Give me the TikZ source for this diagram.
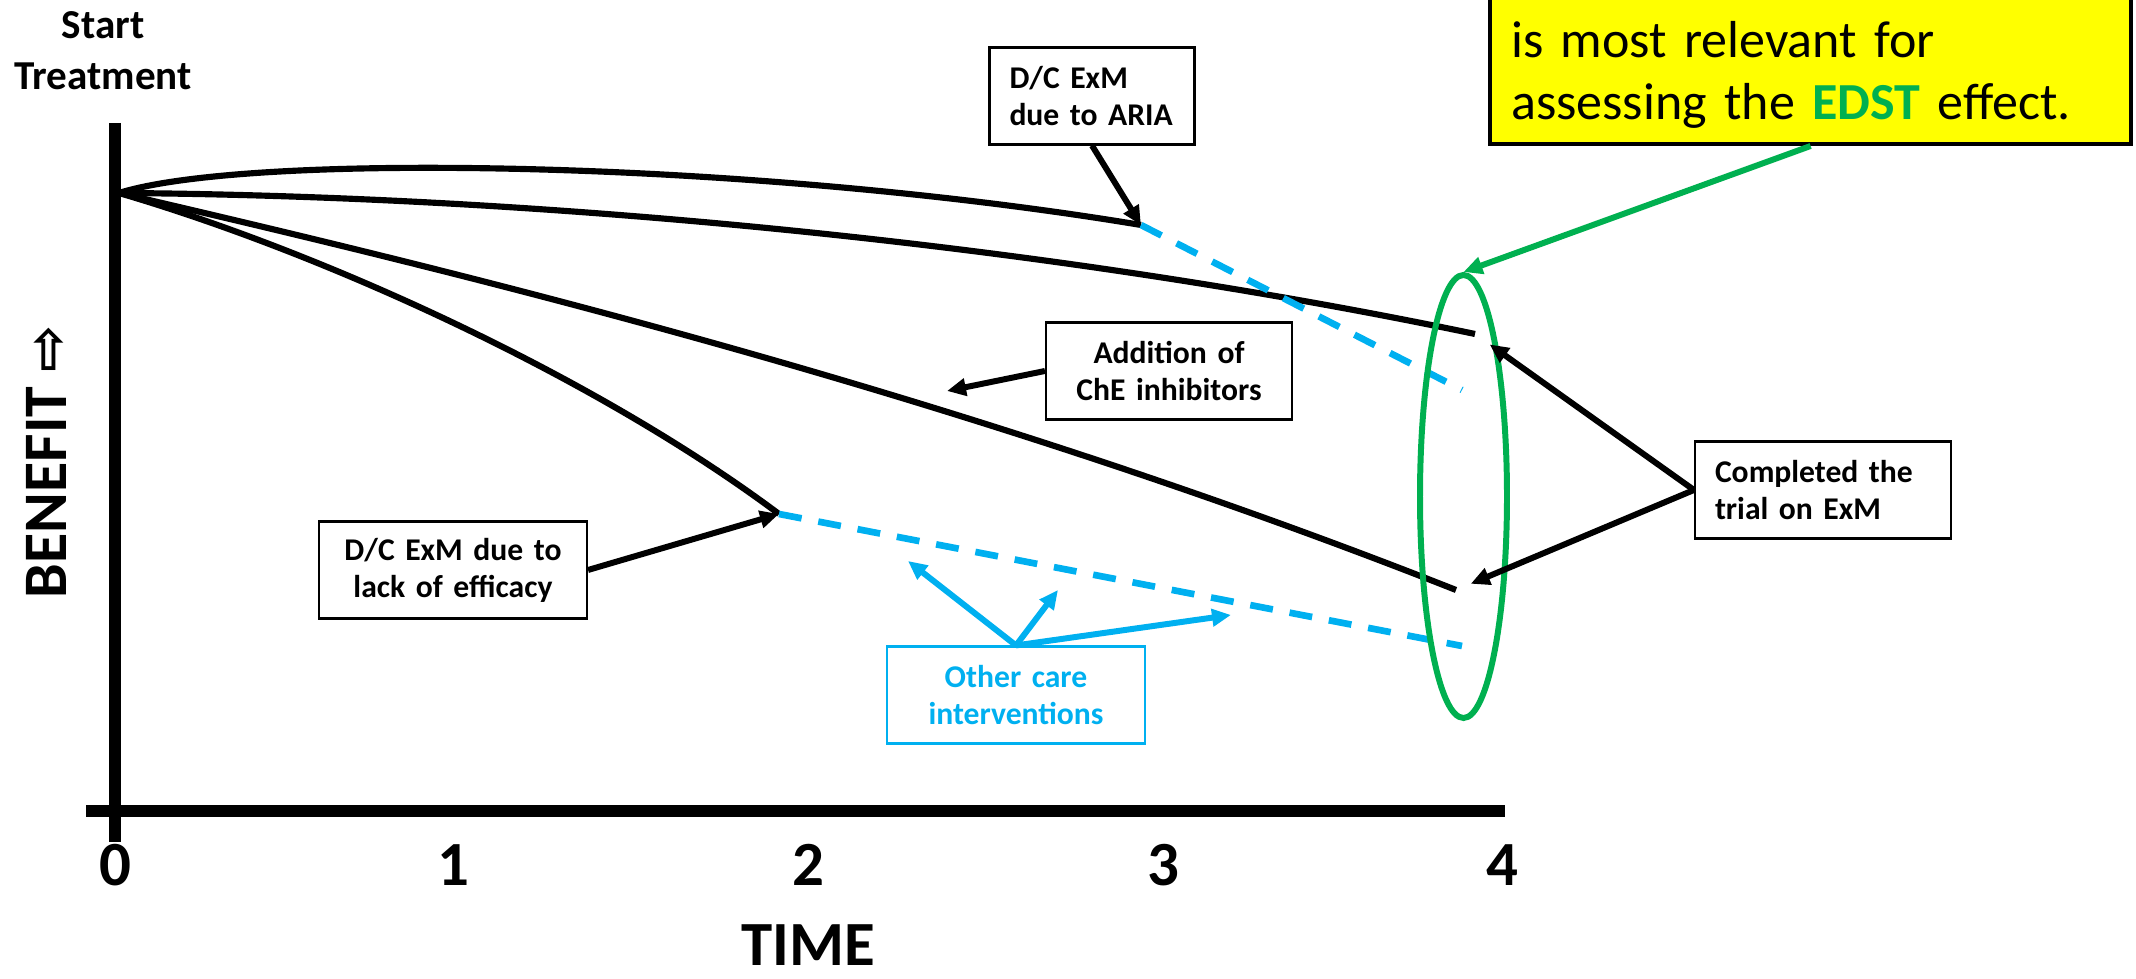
\documentclass[tikz,border=0pt]{standalone}
\usepackage{fontspec}
\setmainfont{Carlito}
\newfontfamily\arrowfont{DejaVu Sans}
\definecolor{CareBlue}{HTML}{00B0F0}
\definecolor{EdstGreen}{HTML}{00B050}
\definecolor{NoteYellow}{HTML}{FFFF00}
\usetikzlibrary{arrows.meta,shapes.geometric}

\begin{document}
\begin{tikzpicture}[
  x=0.1mm,y=-0.1mm,
  box/.style={draw,line width=0.6pt,fill=white,inner xsep=2mm,inner ysep=0pt,minimum height=9.7mm,font=\bfseries\fontsize{9}{10.5}\selectfont},
  carebox/.style={box,draw=CareBlue,text=CareBlue},
  note/.style={draw,line width=1.2pt,fill=NoteYellow,inner xsep=2.1mm,inner ysep=1.5mm,align=left,font=\fontsize{14.8}{17.9}\selectfont},
  curve/.style={line width=1.75pt},
  drop/.style={line width=1.9pt,CareBlue,dash pattern=on 2.3mm off 1.7mm},
  arr/.style={-{Triangle[length=1.9mm,width=1.7mm]},line width=1.7pt},
  carearr/.style={arr,CareBlue},
  greenarr/.style={arr,EdstGreen},
  axis/.style={line width=1.2mm},
  tick/.style={font=\bfseries\fontsize{17.9}{20}\selectfont}
]
\useasboundingbox (0,0) rectangle (2136,979);
\clip (0,0) rectangle (2136,979);

% axes
\draw[axis] (115,123) -- (115,842);
\draw[axis] (86,811) -- (1505,811);
\foreach \t/\x in {0/115,1/453,2/808,3/1163,4/1502}
  \node[tick] (t\t) at (\x,865) {\t};
\node[tick] (time) at (808,945) {TIME};
\node[rotate=90,font=\bfseries\fontsize{17.6}{20}\selectfont] (benefit) at (46,462) {BENEFIT {\arrowfont\fontsize{16}{18}\selectfont ⇨}};
\node[font=\bfseries\fontsize{11.7}{14.5}\selectfont,align=center] (start) at (103,51) {Start\\Treatment};

% curves
\coordinate (o) at (119,193);
\coordinate (aend) at (1141,225);
\coordinate (bend) at (1475,334);
\coordinate (cend) at (1456,590);
\coordinate (dend) at (779,514);
\coordinate (aflat) at (1462,390);
\coordinate (dflat) at (1462,646);
\draw[curve] (o) .. controls (250,152) and (750,160) .. (aend);
\draw[curve] (o) .. controls (550,196) and (1050,245) .. (bend);
\draw[curve] (o) .. controls (450,270) and (950,390) .. (cend);
\draw[curve] (o) .. controls (330,255) and (600,380) .. (dend);
\draw[drop] (aend) -- (aflat);
\draw[drop] (dend) -- (dflat);

% labels
\node[box,text width=16.5mm,align=left] (aria) at (1092,96) {D/C ExM\\due to ARIA};
\node[box,text width=20.6mm,align=center] (addche) at (1169,371) {Addition of\\ChE inhibitors};
\node[box,text width=22.8mm,align=center] (lack) at (453,570) {D/C ExM due to\\lack of efficacy};
\node[box,text width=21.6mm,align=left] (done) at (1823,490) {Completed the\\trial on ExM};
\node[carebox,text width=21.8mm,align=center] (care) at (1016,695) {Other care\\interventions};
\node[note,anchor=south west,text width=59.9mm,text height=25mm] (note) at (1488,146) {is most relevant for\\assessing the \textcolor{EdstGreen}{\bfseries EDST} effect.};
\node[draw=EdstGreen,line width=1.7pt,ellipse,minimum width=8.7mm,minimum height=44.3mm,inner sep=0pt] (oval) at (1463.5,496.5) {};

\coordinate (cheat) at (947,391);
\coordinate (c1) at (908,561);
\coordinate (c2) at (1058,590);
\coordinate (c3) at (1231,615);
\draw[arr] (aria.south) -- (aend);
\draw[arr] (addche.west) -- (cheat);
\draw[arr] (lack.east) -- (dend);
\draw[arr,shorten >=1.8mm] (done.west) -- (bend);
\draw[arr,shorten >=1.6mm] (done.west) -- (cend);
\draw[carearr] (care.north) -- (c1);
\draw[carearr] (care.north) -- (c2);
\draw[carearr] (care.north) -- (c3);
\draw[greenarr] (note.south) -- (oval.north);
\end{tikzpicture}
\end{document}
